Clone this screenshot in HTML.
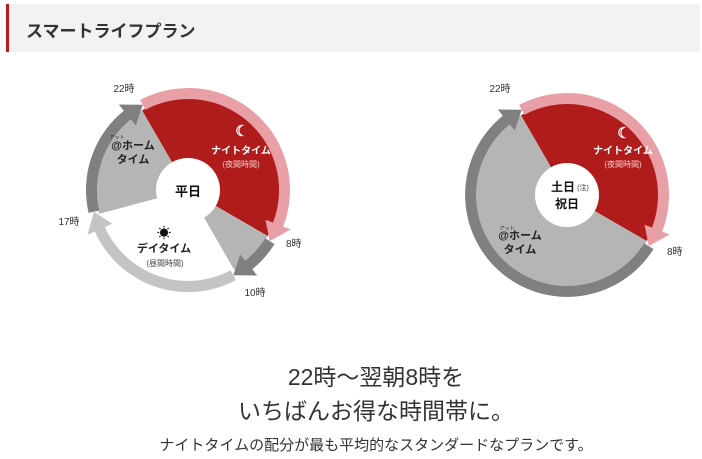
<!DOCTYPE html>
<html><head><meta charset="utf-8"><style>
body{margin:0;width:702px;height:459px;background:#fff;overflow:hidden;font-family:"Liberation Sans","Noto Sans CJK JP",sans-serif;position:relative}
.hd{position:absolute;left:6px;top:4px;width:694px;height:48px;background:#f2f2f2;border-left:3px solid #b71c1c;box-sizing:border-box}
.hd span{position:absolute;left:17px;top:13px;font-size:17px;font-weight:bold;color:#333}
.t{position:absolute;left:0;width:752px;text-align:center;color:#333;white-space:nowrap}
svg{position:absolute;left:0;top:0}
</style></head><body>
<div class="hd"><span>スマートライフプラン</span></div>
<svg id="s" width="702" height="459" font-family="Liberation Sans, Noto Sans CJK JP, sans-serif"></svg>
<div class="t" style="top:358px;font-size:23px">22時～翌朝8時を</div>
<div class="t" style="top:392px;font-size:23px">いちばんお得な時間帯に。</div>
<div class="t" style="top:434px;font-size:15px">ナイトタイムの配分が最も平均的なスタンダードなプランです。</div>
<script>
function P(cx,cy,r,a){a=a*Math.PI/180;return [(cx+r*Math.sin(a)).toFixed(1),(cy-r*Math.cos(a)).toFixed(1)].join(',');}
function wedge(cx,cy,r,a1,a2,c){var l=(a2-a1+360)%360>180?1:0;return '<path d="M'+cx+','+cy+' L'+P(cx,cy,r,a1)+' A'+r+','+r+' 0 '+l+' 1 '+P(cx,cy,r,a2)+' Z" fill="'+c+'"/>';}
function arrow(cx,cy,ri,ro,a1,a2,c){var h=11,w=8,e=a2-h,l=(e-a1+360)%360>180?1:0,m=(ri+ro)/2;
return '<path d="M'+P(cx,cy,ro,a1)+' A'+ro+','+ro+' 0 '+l+' 1 '+P(cx,cy,ro,e)+' L'+P(cx,cy,ro+w,e)+' L'+P(cx,cy,m,a2)+' L'+P(cx,cy,ri-w,e)+' L'+P(cx,cy,ri,e)+' A'+ri+','+ri+' 0 '+l+' 0 '+P(cx,cy,ri,a1)+' Z" fill="'+c+'"/>';}
var s='';
var R='#b01c1c',G='#b5b5b5',D='#808080',PK='#e8a0a6',LG='#c4c4c4';
var ri=91,ro=102,pr=92;
var cx=188,cy=190;
s+=wedge(cx,cy,pr,330,120,R)+wedge(cx,cy,pr,120,150,G)+wedge(cx,cy,pr,150,255,'#fff')+wedge(cx,cy,pr,255,330,G);
s+=arrow(cx,cy,ri,ro,332,122,PK)+arrow(cx,cy,ri,ro,122,152,D)+arrow(cx,cy,ri,ro,152,257,LG)+arrow(cx,cy,ri,ro,257,332,D);
s+='<circle cx="'+cx+'" cy="'+cy+'" r="32" fill="#fff"/>';
cx=567;cy=195;
s+=wedge(cx,cy,pr,330,120,R)+wedge(cx,cy,pr,120,330,G);
s+=arrow(cx,cy,ri,ro,332,122,PK)+arrow(cx,cy,ri,ro,122,332,D);
s+='<circle cx="'+cx+'" cy="'+cy+'" r="32" fill="#fff"/>';
document.getElementById('s').innerHTML=s;
var t='';
function T(x,y,sz,txt,c,b,a){t+='<text x="'+x+'" y="'+y+'" font-size="'+sz+'" fill="'+(c||'#333')+'"'+(b?' font-weight="bold"':'')+' text-anchor="'+(a||'middle')+'">'+txt+'</text>';}
T(124,92,10,'22時');T(286,247,10,'8時','#333',0,'start');T(255,296,10,'10時');T(69,225,10,'17時');
T(241,154,10,'ナイトタイム','#fff',1);T(241,167,8,'(夜間時間)','#f3d0d0');
T(242,136,15,'☾','#fff',1);
T(133,149,11,'@ホーム','#222',1);T(133,163,11,'タイム','#222',1);T(117,139,5,'アット','#222');
T(164,252,11,'デイタイム','#222',1);T(165,266,8,'(昼間時間)','#444');T(164,238,14,'☀','#111');
T(188,196,13,'平日','#111',1);
T(500,92,10,'22時');T(667,255,10,'8時','#333',0,'start');
T(623,154,10,'ナイトタイム','#fff',1);T(623,167,8,'(夜間時間)','#f3d0d0');T(624,138,15,'☾','#fff',1);
T(520,239,11,'@ホーム','#222',1);T(520,253,11,'タイム','#222',1);T(507,230,5,'アット','#222');
T(563,191,12,'土日','#111',1);T(583,190,7,'(注)','#333');T(567,208,12,'祝日','#111',1);
document.getElementById('s').innerHTML+=t;
</script>
</body></html>
